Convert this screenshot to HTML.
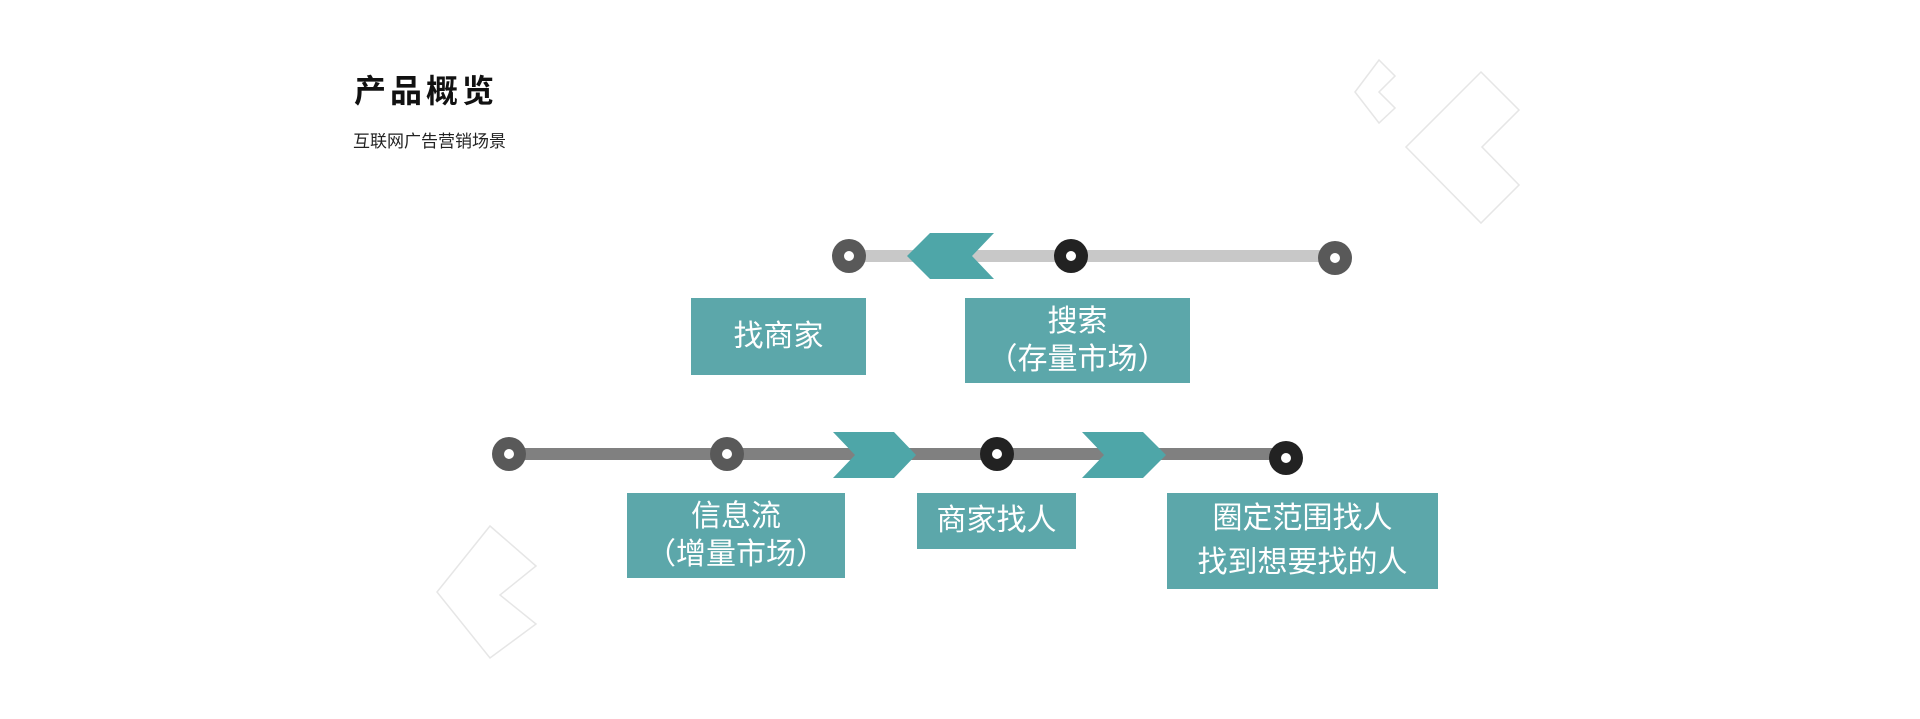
<!DOCTYPE html>
<html><head><meta charset="utf-8"><style>
html,body{margin:0;padding:0;background:#fff;}
body{width:1920px;height:719px;position:relative;overflow:hidden;font-family:"Liberation Sans","Noto Sans CJK SC",sans-serif;}
.t{position:absolute;}
.box{position:absolute;background:#5ca7aa;color:#fff;font-size:30px;display:flex;flex-direction:column;align-items:center;justify-content:center;line-height:38px;text-align:center;}
</style></head><body>
<svg class="t" style="left:0;top:0" width="1920" height="719">
<g fill="none" stroke="#e6e6e6" stroke-width="1.5">
<polygon points="1481,72 1519,110 1482,147 1519,185 1481,223 1406,147"/>
<polygon points="1379,60 1395,76 1379,92 1395,108 1379,123 1355,92"/>
<polygon points="490,526 536,566 500,595 536,624 490,658 437,592"/>
</g>
<rect x="849" y="250" width="486" height="12" fill="#c8c8c8"/>
<polygon points="930,233 994,233 972,256 994,279 930,279 907,256" fill="#4ea6a8"/>
<circle cx="849" cy="256" r="17" fill="#595959"/><circle cx="849" cy="256" r="5" fill="#fff"/>
<circle cx="1071" cy="256" r="17" fill="#222"/><circle cx="1071" cy="256" r="5" fill="#fff"/>
<circle cx="1335" cy="258" r="17" fill="#595959"/><circle cx="1335" cy="258" r="5" fill="#fff"/>
<rect x="509" y="448" width="777" height="12" fill="#808080"/>
<polygon points="833,432 894,432 916,455 894,478 833,478 855,455" fill="#4ea6a8"/>
<polygon points="1082,432 1143,432 1166,455 1143,478 1082,478 1104,455" fill="#4ea6a8"/>
<circle cx="509" cy="454" r="17" fill="#595959"/><circle cx="509" cy="454" r="5" fill="#fff"/>
<circle cx="727" cy="454" r="17" fill="#595959"/><circle cx="727" cy="454" r="5" fill="#fff"/>
<circle cx="997" cy="454" r="17" fill="#222"/><circle cx="997" cy="454" r="5" fill="#fff"/>
<circle cx="1286" cy="458" r="17" fill="#222"/><circle cx="1286" cy="458" r="5" fill="#fff"/>
</svg>
<div class="t" style="left:354px;top:66px;font-size:32px;font-weight:bold;letter-spacing:4px;color:#111;">产品概览</div>
<div class="t" style="left:353px;top:127px;font-size:17px;color:#222;">互联网广告营销场景</div>
<div class="box" style="left:691px;top:298px;width:175px;height:77px;">找商家</div>
<div class="box" style="left:965px;top:298px;width:225px;height:85px;"><div>搜索</div><div>（存量市场）</div></div>
<div class="box" style="left:627px;top:493px;width:218px;height:85px;"><div>信息流</div><div>（增量市场）</div></div>
<div class="box" style="left:917px;top:493px;width:159px;height:56px;">商家找人</div>
<div class="box" style="left:1167px;top:493px;width:271px;height:96px;line-height:44px;"><div>圈定范围找人</div><div>找到想要找的人</div></div>
</body></html>
